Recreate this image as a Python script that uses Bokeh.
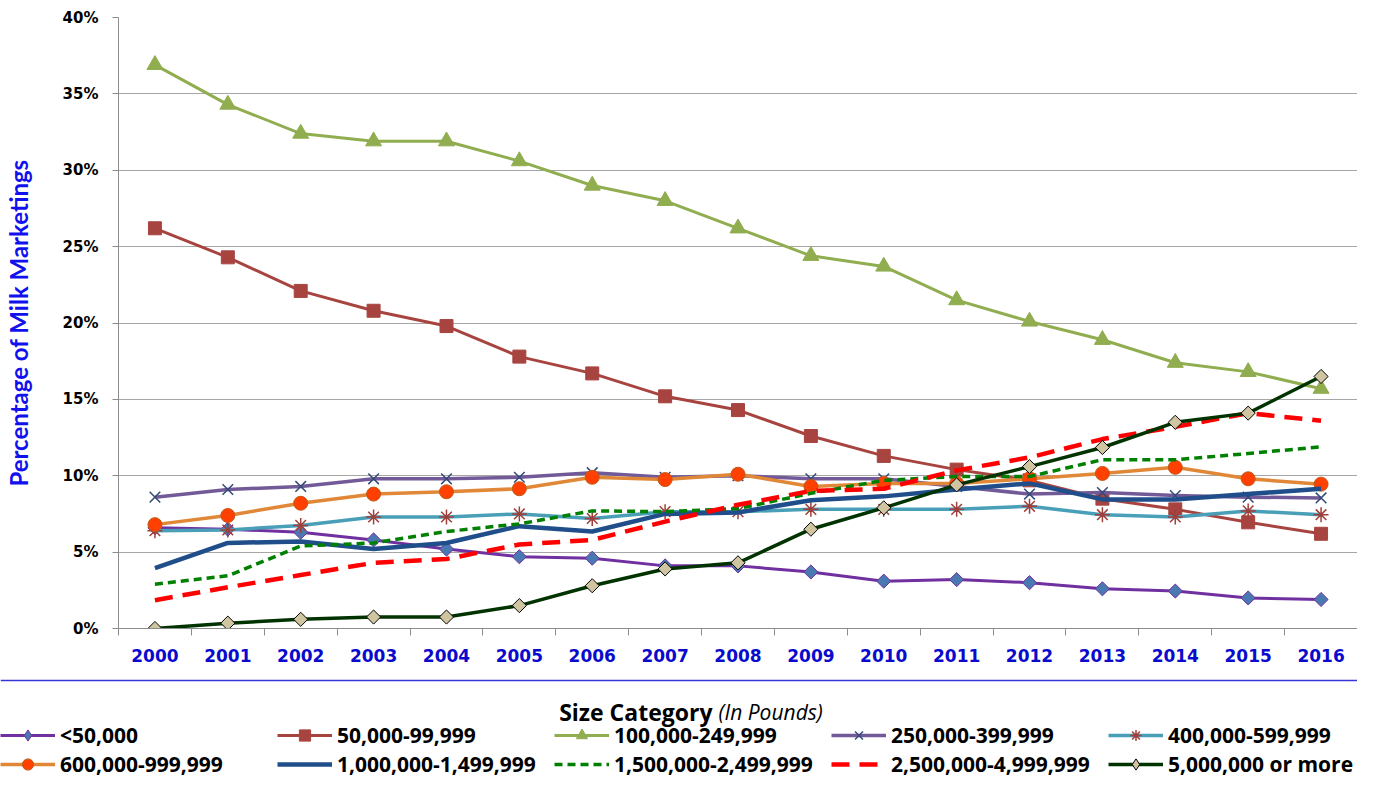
import math
from bokeh.plotting import figure
from bokeh.layouts import column
from bokeh.models import (Range1d, FixedTicker, PrintfTickFormatter, Legend, LegendItem,
                          Label, Span, ColumnDataSource)
from bokeh.embed import file_html
from bokeh.resources import INLINE

years = list(range(2000, 2017))
y_ticks = [0, 5, 10, 15, 20, 25, 30, 35, 40]

names = ["<50,000", "50,000-99,999", "100,000-249,999", "250,000-399,999", "400,000-599,999",
         "600,000-999,999", "1,000,000-1,499,999", "1,500,000-2,499,999", "2,500,000-4,999,999",
         "5,000,000 or more"]

lt50 = [6.6, 6.5, 6.3, 5.8, 5.2, 4.7, 4.6, 4.1, 4.1, 3.7, 3.1, 3.2, 3.0, 2.6, 2.45, 2.0, 1.9]
s50k = [26.2, 24.3, 22.1, 20.8, 19.8, 17.8, 16.7, 15.2, 14.3, 12.6, 11.3, 10.4, 9.7, 8.5, 7.8, 6.95, 6.2]
s100k = [36.9, 34.3, 32.4, 31.9, 31.9, 30.6, 29.0, 28.0, 26.2, 24.4, 23.7, 21.5, 20.1, 18.9, 17.4, 16.8, 15.7]
s250k = [8.6, 9.1, 9.3, 9.8, 9.8, 9.9, 10.2, 9.9, 10.0, 9.8, 9.8, 9.3, 8.8, 8.9, 8.7, 8.6, 8.55]
s400k = [6.4, 6.45, 6.75, 7.3, 7.3, 7.5, 7.2, 7.65, 7.65, 7.8, 7.8, 7.8, 8.0, 7.45, 7.3, 7.7, 7.45]
s600k = [6.8, 7.4, 8.2, 8.8, 8.95, 9.15, 9.9, 9.75, 10.1, 9.3, 9.5, 9.5, 9.8, 10.15, 10.55, 9.8, 9.45]
s1m = [3.95, 5.6, 5.7, 5.2, 5.6, 6.7, 6.35, 7.5, 7.6, 8.4, 8.65, 9.1, 9.5, 8.45, 8.45, 8.8, 9.15]
s1_5m = [2.9, 3.45, 5.4, 5.6, 6.35, 6.85, 7.7, 7.65, 7.85, 8.85, 9.7, 9.95, 9.95, 11.05, 11.05, 11.45, 11.9]
s2_5m = [1.85, 2.7, 3.5, 4.3, 4.55, 5.5, 5.8, 7.0, 8.1, 9.0, 9.15, 10.35, 11.2, 12.4, 13.2, 14.1, 13.6]
s5m = [0.0, 0.35, 0.6, 0.75, 0.75, 1.5, 2.8, 3.9, 4.3, 6.5, 7.9, 9.4, 10.6, 11.85, 13.5, 14.1, 16.5]

GRID = "#a6a6a6"
AXIS = "#8c8c8c"
W = 1357
H_MAIN = 674
H_LEG = 104

p = figure(width=W, height=H_MAIN, output_backend="svg", toolbar_location=None,
           x_range=Range1d(years[0] - 0.5, years[-1] + 0.5), y_range=Range1d(y_ticks[0], y_ticks[-1]),
           min_border_left=118, min_border_right=0, min_border_top=17, min_border_bottom=46)
p.frame_align = False
p.outline_line_color = None
p.background_fill_color = "white"
p.border_fill_color = "white"

# y axis
p.yaxis.ticker = FixedTicker(ticks=y_ticks)
p.yaxis.formatter = PrintfTickFormatter(format="%d%%")
p.yaxis.axis_line_color = AXIS
p.yaxis.major_tick_line_color = AXIS
p.yaxis.major_tick_out = 6
p.yaxis.major_tick_in = 0
p.yaxis.minor_tick_line_color = None
p.yaxis.major_label_standoff = 14
p.yaxis.major_label_text_font = "DejaVu Sans"
p.yaxis.major_label_text_font_style = "bold"
p.yaxis.major_label_text_font_size = "15px"
p.yaxis.major_label_text_color = "black"
p.yaxis.axis_label = "Percentage of Milk Marketings"
p.yaxis.axis_label_text_font = "Lato"
p.yaxis.axis_label_text_font_style = "bold"
p.yaxis.axis_label_text_font_size = "24px"
p.yaxis.axis_label_text_color = "#1111ee"
p.yaxis.axis_label_standoff = 27

# x axis
p.xaxis.ticker = FixedTicker(ticks=years, minor_ticks=[y - 0.5 for y in years] + [years[-1] + 0.5])
p.xaxis.axis_line_color = AXIS
p.xaxis.major_tick_out = 0
p.xaxis.major_tick_in = 0
p.xaxis.minor_tick_out = 7
p.xaxis.minor_tick_in = 0
p.xaxis.minor_tick_line_color = AXIS
p.xaxis.major_label_standoff = 13
p.xaxis.major_label_text_font = "DejaVu Sans"
p.xaxis.major_label_text_font_style = "bold"
p.xaxis.major_label_text_font_size = "17px"
p.xaxis.major_label_text_color = "#0a0acc"

p.xgrid.visible = False
p.ygrid.ticker = FixedTicker(ticks=y_ticks)
p.ygrid.grid_line_color = GRID
p.ygrid.grid_line_width = 1

styles = [
    # line color, width, dash, marker, size, fill, marker line, angle, legend marker
    ("#7030a0", 3, "solid", "square", 10, "#4a78b0", "#7030a0", math.pi / 4, "diamond"),
    ("#a84440", 3, "solid", "square", 13, "#a84440", "#a84440", 0, "square"),
    ("#90ad4f", 3, "solid", "triangle", 16, "#90ad4f", "#90ad4f", 0, "triangle"),
    ("#725a98", 3.5, "solid", "x", 15, None, "#344a78", 0, "x"),
    ("#4a9fb8", 3.5, "solid", "asterisk", 15, None, "#a03e3a", 0, "asterisk"),
    ("#e08838", 3.5, "solid", "circle", 14, "#ff4000", "#c05a18", 0, "circle"),
    ("#1f4e8a", 4.5, "solid", None, 0, None, None, 0, None),
    ("#008000", 3.5, "8 5", None, 0, None, None, 0, None),
    ("#ff0000", 4.5, "18 10", None, 0, None, None, 0, None),
    ("#003300", 3.5, "solid", "square", 10, "#cfc5a0", "#000000", math.pi / 4, "diamond"),
]
series = [lt50, s50k, s100k, s250k, s400k, s600k, s1m, s1_5m, s2_5m, s5m]


def add_series(fig, src, st, legend_marker=False):
    col, lw, dash, mk, ms, fill, mline, ang, lmk = st
    rs = [fig.line("x", "y", source=src, line_color=col, line_width=lw, line_dash=dash,
                   line_join="round", line_cap="butt")]
    marker = lmk if legend_marker else mk
    if marker is not None:
        rs.append(fig.scatter("x", "y", source=src, marker=marker, size=ms, fill_color=fill,
                              line_color=mline, line_width=1.5 if mk in ("x", "asterisk") else 1,
                              angle=0 if legend_marker else ang))
    return rs


for vals, st in zip(series, styles):
    add_series(p, ColumnDataSource(dict(x=years, y=vals)), st)

# ---- legend panel below the chart ----
q = figure(width=W, height=H_LEG, output_backend="svg", toolbar_location=None,
           x_range=Range1d(0, W), y_range=Range1d(H_LEG, 0),
           x_axis_type=None, y_axis_type=None,
           min_border_left=0, min_border_right=0, min_border_top=0, min_border_bottom=0)
q.frame_align = False
q.outline_line_color = None
q.grid.visible = False
q.background_fill_color = "white"
q.border_fill_color = "white"

items = []
for name, st in zip(names, styles):
    sample = ColumnDataSource(dict(x=[float("nan")], y=[float("nan")]))
    items.append(LegendItem(label=name, renderers=add_series(q, sample, st, legend_marker=True)))

leg = Legend(items=items, ncols=5, orientation="horizontal", location=(0, 0),
             glyph_width=55, glyph_height=28, label_standoff=5, spacing=1, label_width=216,
             padding=0, margin=0, border_line_color=None, background_fill_alpha=0,
             label_text_font="Open Sans", label_text_font_style="bold",
             label_text_font_size="21px", label_text_color="black")
q.add_layout(leg)

q.add_layout(Span(location=6, dimension="width", line_color="#3535d8", line_width=1.5))
q.add_layout(Label(x=712, y=37, text="Size Category", text_align="right", text_baseline="middle",
                   text_font="Open Sans", text_font_style="bold", text_font_size="23px",
                   text_color="black"))
q.add_layout(Label(x=718, y=37, text="(In Pounds)", text_align="left", text_baseline="middle",
                   text_font="Open Sans", text_font_style="italic", text_font_size="21px",
                   text_color="black"))

layout = column(p, q, spacing=0)
open("out.html", "w").write(file_html(layout, INLINE))
